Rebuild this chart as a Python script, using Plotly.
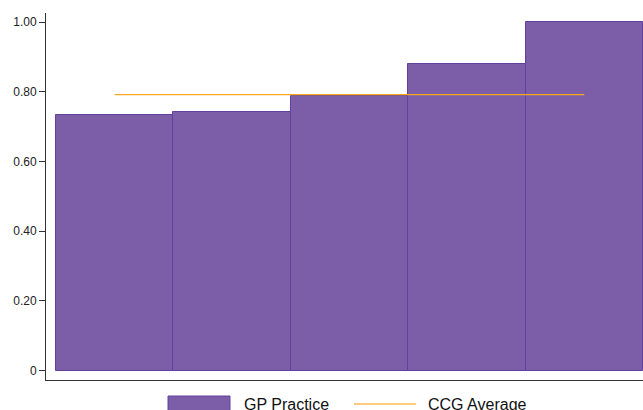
import plotly.graph_objects as go

# ---- data ----
practices = [0, 1, 2, 3, 4]
gp_practice = [0.733, 0.741, 0.789, 0.879, 1.00]
ccg_average = [0.792, 0.792, 0.792, 0.792, 0.792]
tick_vals = [0, 0.2, 0.4, 0.6, 0.8, 1.0]
tick_text = ["0", "0.20", "0.40", "0.60", "0.80", "1.00"]

BAR = "#7B5EA7"
BAR_EDGE = "#6240A0"
LINE = "#F7A823"
AXIS = "#333333"
FONT = "Liberation Sans, Arial, sans-serif"

fig = go.Figure()
fig.add_trace(go.Bar(
    x=practices, y=gp_practice, width=1,
    marker=dict(color=BAR, line=dict(color=BAR_EDGE, width=1)),
    name="GP Practice", showlegend=False,
))
fig.add_trace(go.Scatter(
    x=practices, y=ccg_average, mode="lines",
    line=dict(color=LINE, width=1.2),
    name="CCG Average", showlegend=False,
))

# custom legend (wide swatches as in the reference)
fig.add_shape(type="rect", xref="paper", yref="paper",
              x0=0.2044, x1=0.3082, y0=-0.09, y1=-0.0436,
              fillcolor=BAR, line=dict(color=BAR_EDGE, width=1))
fig.add_shape(type="line", xref="paper", yref="paper",
              x0=0.5159, x1=0.6198, y0=-0.0654, y1=-0.0654,
              line=dict(color="#FCCB80", width=2))
fig.add_annotation(text="GP Practice", xref="paper", yref="paper",
                   x=0.3283, y=-0.0654, xanchor="left", yanchor="middle",
                   showarrow=False, font=dict(size=16, color="#111111", family=FONT))
fig.add_annotation(text="CCG Average", xref="paper", yref="paper",
                   x=0.6365, y=-0.0654, xanchor="left", yanchor="middle",
                   showarrow=False, font=dict(size=16, color="#111111", family=FONT))

fig.update_layout(
    width=643, height=410,
    margin=dict(l=46, r=0, t=13, b=30),
    paper_bgcolor="white", plot_bgcolor="white",
    bargap=0,
    font=dict(family=FONT, size=12, color="#222222"),
    xaxis=dict(range=[-0.585, 4.5], showticklabels=False, ticks="",
               showgrid=False, zeroline=False, showline=True,
               linecolor=AXIS, linewidth=1),
    yaxis=dict(range=[-0.027, 1.026], tickvals=tick_vals, ticktext=tick_text,
               ticks="outside", ticklen=6, tickcolor=AXIS,
               showgrid=False, zeroline=False, showline=True,
               linecolor=AXIS, linewidth=1),
)

fig.write_html(
    "out.html",
    config={"displayModeBar": False},
    post_script="document.body.style.margin='0';document.body.style.overflow='hidden';",
)
